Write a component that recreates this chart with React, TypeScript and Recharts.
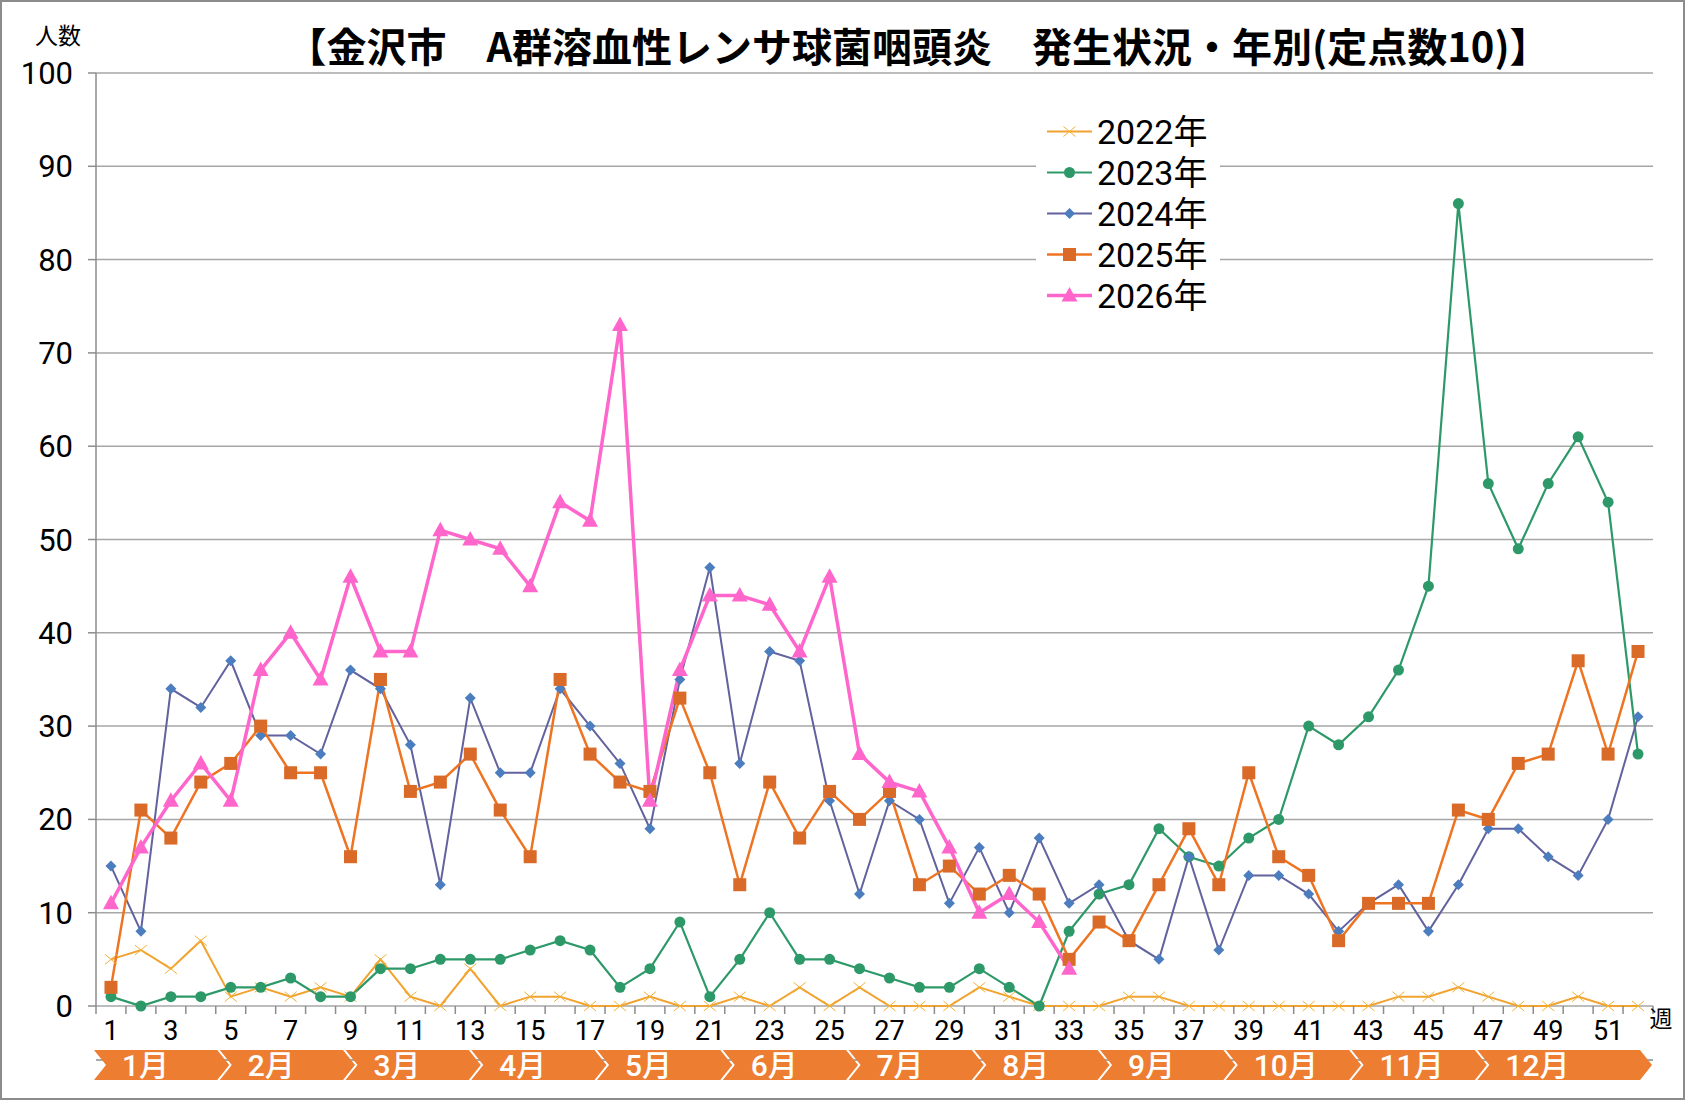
import React from 'react';
import { LineChart, Line, XAxis, YAxis, CartesianGrid, Legend } from 'recharts';

// ---- data ----
const weeks = [1, 2, 3, 4, 5, 6, 7, 8, 9, 10, 11, 12, 13, 14, 15, 16, 17, 18, 19, 20, 21, 22, 23, 24, 25, 26, 27, 28, 29, 30, 31, 32, 33, 34, 35, 36, 37, 38, 39, 40, 41, 42, 43, 44, 45, 46, 47, 48, 49, 50, 51, 52];
const y2022 = [5, 6, 4, 7, 1, 2, 1, 2, 1, 5, 1, 0, 4, 0, 1, 1, 0, 0, 1, 0, 0, 1, 0, 2, 0, 2, 0, 0, 0, 2, 1, 0, 0, 0, 1, 1, 0, 0, 0, 0, 0, 0, 0, 1, 1, 2, 1, 0, 0, 1, 0, 0];
const y2023 = [1, 0, 1, 1, 2, 2, 3, 1, 1, 4, 4, 5, 5, 5, 6, 7, 6, 2, 4, 9, 1, 5, 10, 5, 5, 4, 3, 2, 2, 4, 2, 0, 8, 12, 13, 19, 16, 15, 18, 20, 30, 28, 31, 36, 45, 86, 56, 49, 56, 61, 54, 27];
const y2024 = [15, 8, 34, 32, 37, 29, 29, 27, 36, 34, 28, 13, 33, 25, 25, 34, 30, 26, 19, 35, 47, 26, 38, 37, 22, 12, 22, 20, 11, 17, 10, 18, 11, 13, 7, 5, 16, 6, 14, 14, 12, 8, 11, 13, 8, 13, 19, 19, 16, 14, 20, 31];
const y2025 = [2, 21, 18, 24, 26, 30, 25, 25, 16, 35, 23, 24, 27, 21, 16, 35, 27, 24, 23, 33, 25, 13, 24, 18, 23, 20, 23, 13, 15, 12, 14, 12, 5, 9, 7, 13, 19, 13, 25, 16, 14, 7, 11, 11, 11, 21, 20, 26, 27, 37, 27, 38];
const y2026 = [11, 17, 22, 26, 22, 36, 40, 35, 46, 38, 38, 51, 50, 49, 45, 54, 52, 73, 22, 36, 44, 44, 43, 38, 46, 27, 24, 23, 17, 10, 12, 9, 4];
const yTicks = [0, 10, 20, 30, 40, 50, 60, 70, 80, 90, 100];
const monthLabels = ['1月', '2月', '3月', '4月', '5月', '6月', '7月', '8月', '9月', '10月', '11月', '12月'];
const seriesNames = ['2022年', '2023年', '2024年', '2025年', '2026年'];
const titleText = '【金沢市\u3000A群溶血性レンサ球菌咽頭炎\u3000発生状況・年別(定点数10)】';

// ---- layout ----
const W = 1685;
const H = 1100;
const PLOT_L = 96;
const PLOT_T = 73;
const PLOT_R = 1653;
const PLOT_B = 1006;
const PLOT_W = PLOT_R - PLOT_L;
const BAND = PLOT_W / 52;
const MONTH_WEEKS = 4.2;
const MONTH_W = MONTH_WEEKS * BAND;
const BANNER_T = 1050;
const BANNER_B = 1080;
const BANNER_END = 1652;
const FONT = '"Noto Sans CJK JP", "Noto Sans", sans-serif';
const NUM_FONT = 'Roboto, "Noto Sans CJK JP", sans-serif';

const data = weeks.map((w, i) => ({
  week: w,
  s2022: y2022[i],
  s2023: y2023[i],
  s2024: y2024[i],
  s2025: y2025[i],
  s2026: i < y2026.length ? y2026[i] : null,
}));

const monthTicks = monthLabels.map((_, i) => i * MONTH_WEEKS + MONTH_WEEKS / 2);

type Marker = 'cross' | 'circle' | 'diamond' | 'square' | 'triangle';
const series: { key: string; name: string; color: string; marker: string; width: number; type: Marker }[] = [
  { key: 's2022', name: seriesNames[0], color: '#F2A22E', marker: '#F2B134', width: 2, type: 'cross' },
  { key: 's2023', name: seriesNames[1], color: '#2E9968', marker: '#2E9968', width: 2.2, type: 'circle' },
  { key: 's2024', name: seriesNames[2], color: '#62629E', marker: '#4C7DBE', width: 2, type: 'diamond' },
  { key: 's2025', name: seriesNames[3], color: '#EE7422', marker: '#D96A28', width: 2.5, type: 'square' },
  { key: 's2026', name: seriesNames[4], color: '#FF66CC', marker: '#FF66CC', width: 3.5, type: 'triangle' },
];

function renderMarker(type: Marker, cx: number, cy: number, color: string, key: string) {
  switch (type) {
    case 'cross':
      return (
        <g key={key}>
          <line x1={cx - 6} y1={cy - 5} x2={cx + 6} y2={cy + 5} stroke={color} strokeWidth={1} />
          <line x1={cx - 6} y1={cy + 5} x2={cx + 6} y2={cy - 5} stroke={color} strokeWidth={1} />
        </g>
      );
    case 'circle':
      return <circle key={key} cx={cx} cy={cy} r={5.5} fill={color} />;
    case 'diamond':
      return <polygon key={key} points={`${cx},${cy - 5.5} ${cx + 5.5},${cy} ${cx},${cy + 5.5} ${cx - 5.5},${cy}`} fill={color} />;
    case 'square':
      return <rect key={key} x={cx - 6.5} y={cy - 6.5} width={13} height={13} fill={color} />;
    case 'triangle':
      return <polygon key={key} points={`${cx},${cy - 8.5} ${cx + 8},${cy + 6} ${cx - 8},${cy + 6}`} fill={color} />;
  }
  return <g key={key} />;
}

const WeekTick = (props: any) => {
  const { x, payload, index } = props;
  const half = BAND / 2;
  const v = Number(payload.value);
  return (
    <g>
      <line x1={x - half} y1={PLOT_B} x2={x - half} y2={PLOT_B + 8} stroke="#8C8C8C" strokeWidth={1.5} />
      {index === 51 && <line x1={x + half} y1={PLOT_B} x2={x + half} y2={PLOT_B + 8} stroke="#8C8C8C" strokeWidth={1.5} />}
      {v % 2 === 1 && (
        <text x={x} y={PLOT_B + 34} textAnchor="middle" fontSize={27} fill="#000" fontFamily={NUM_FONT}>
          {v}
        </text>
      )}
    </g>
  );
};

const MonthTick = (props: any) => {
  const { x, index } = props;
  const tip = 12;
  const gap = 2.5;
  const x0 = x - MONTH_W / 2 - 2;
  const last = index === monthLabels.length - 1;
  const x1 = last ? BANNER_END - tip : x0 + MONTH_W - gap;
  const M = (BANNER_T + BANNER_B) / 2;
  const pts = `${x0},${BANNER_T} ${x1},${BANNER_T} ${x1 + tip},${M} ${x1},${BANNER_B} ${x0},${BANNER_B} ${x0 + tip},${M}`;
  return (
    <g>
      <polygon points={pts} fill="#ED7D31" />
      <text x={x0 + 28} y={M + 11} textAnchor="start" fontSize={30} fontWeight={500} fill="#FFFFFF" fontFamily={NUM_FONT}>
        {monthLabels[index]}
      </text>
    </g>
  );
};

const LegendContent = () => (
  <div style={{ background: '#FFFFFF', width: 184, fontFamily: NUM_FONT }}>
    {series.map((s) => (
      <div key={s.key} style={{ height: 41, display: 'flex', alignItems: 'center', overflow: 'hidden' }}>
        <svg width={60} height={41} style={{ display: 'block', flex: 'none' }}>
          <line x1={11} y1={20.5} x2={56} y2={20.5} stroke={s.color} strokeWidth={s.width} />
          {renderMarker(s.type, 33.5, 20.5, s.marker, 'lg' + s.key)}
        </svg>
        <span style={{ fontSize: 34, lineHeight: '38px', color: '#000', marginLeft: 1, whiteSpace: 'nowrap' }}>{s.name}</span>
      </div>
    ))}
  </div>
);

export default function App() {
  return (
    <div style={{ position: 'absolute', left: 0, top: 0, width: W, height: H, background: '#FFFFFF', fontFamily: FONT, overflow: 'hidden' }}>
      <LineChart
        width={W}
        height={H}
        data={data}
        margin={{ top: PLOT_T, right: W - PLOT_R, bottom: 0, left: 0 }}
      >
        <CartesianGrid xAxisId="w" horizontal={true} vertical={false} stroke="#A6A6A6" strokeWidth={1.5} />
        <XAxis
          xAxisId="w"
          dataKey="week"
          type="category"
          interval={0}
          padding={{ left: BAND / 2, right: BAND / 2 }}
          height={40}
          tickSize={0}
          tickMargin={0}
          tickLine={false}
          axisLine={{ stroke: '#8C8C8C', strokeWidth: 1.5 }}
          tick={(p: any) => <WeekTick {...p} />}
        />
        <XAxis
          xAxisId="m"
          dataKey="week"
          type="number"
          domain={[0, 52]}
          allowDataOverflow={true}
          ticks={monthTicks}
          interval={0}
          height={54}
          tickSize={0}
          tickMargin={0}
          tickLine={false}
          axisLine={false}
          tick={(p: any) => <MonthTick {...p} />}
        />
        <YAxis
          domain={[0, 100]}
          ticks={yTicks}
          interval={0}
          width={PLOT_L}
          tickSize={8}
          tickMargin={15}
          tickLine={{ stroke: '#8C8C8C', strokeWidth: 1.5 }}
          axisLine={{ stroke: '#8C8C8C', strokeWidth: 1.5 }}
          tick={{ fontSize: 31, fill: '#000', fontFamily: NUM_FONT }}
        />
        {series.map((s) => (
          <Line
            key={s.key}
            xAxisId="w"
            dataKey={s.key}
            name={s.name}
            stroke={s.color}
            strokeWidth={s.width}
            isAnimationActive={false}
            connectNulls={false}
            activeDot={false}
            dot={(p: any) =>
              p.cx == null || p.cy == null || p.value == null
                ? <g key={`${s.key}-${p.index}`} />
                : renderMarker(s.type, p.cx, p.cy, s.marker, `${s.key}-${p.index}`)
            }
          />
        ))}
        <Legend
          layout="vertical"
          align="center"
          verticalAlign="middle"
          content={() => <LegendContent />}
          wrapperStyle={{ left: 1036, top: 111, width: 184 }}
        />
      </LineChart>
      <div style={{ position: 'absolute', left: 918, top: 23, transform: 'translateX(-50%)', whiteSpace: 'nowrap', fontSize: 40, lineHeight: '44px', fontWeight: 700, color: '#000' }}>
        {titleText}
      </div>
      <div style={{ position: 'absolute', left: 58, top: 22, transform: 'translateX(-50%)', fontSize: 23, lineHeight: '24px', color: '#000', whiteSpace: 'nowrap' }}>
        人数
      </div>
      <div style={{ position: 'absolute', left: 1661, top: 1005, transform: 'translateX(-50%)', fontSize: 23, lineHeight: '24px', color: '#000' }}>
        週
      </div>
      <div style={{ position: 'absolute', left: 0, top: 0, width: W, height: H, boxSizing: 'border-box', border: '2px solid #8C8C8C', pointerEvents: 'none' }} />
    </div>
  );
}
